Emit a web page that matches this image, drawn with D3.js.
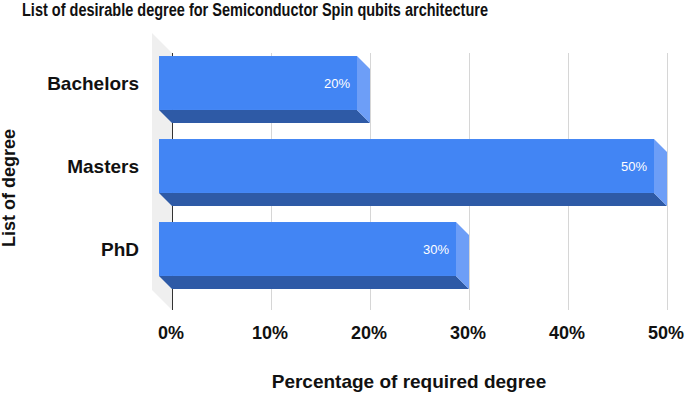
<!DOCTYPE html>
<html>
<head>
<meta charset="utf-8">
<script src="https://cdn.jsdelivr.net/npm/d3@7"></script>
<style>
  body { margin: 0; background: #fff; }
  text { font-family: "Liberation Sans", Arial, sans-serif; }
</style>
</head>
<body>
<svg id="chart"></svg>
<script>
// data
const degrees = ["Bachelors", "Masters", "PhD"];
const shares = [0.20, 0.50, 0.30];
const xTicks = [0, 0.1, 0.2, 0.3, 0.4, 0.5];

const width = 685, height = 394;
const depth = 13, wallDepth = 20;
const plotTop = 53, plotBottom = 310;

const svg = d3.select("#chart")
  .attr("width", width)
  .attr("height", height);

const x = d3.scaleLinear().domain([0, 0.5]).range([172, 667]);

// front faces sit up-left of the back plane by `depth`
const y = d3.scaleBand()
  .domain(degrees)
  .range([41.5, 290.5])
  .paddingInner(0.35)
  .paddingOuter(0.175);

// grey side wall
svg.append("polygon")
  .attr("points", [
    [x(0) - wallDepth, plotTop - wallDepth],
    [x(0), plotTop],
    [x(0), plotBottom],
    [x(0) - wallDepth, plotBottom - wallDepth]
  ].join(" "))
  .attr("fill", "#efefef");

// gridlines
svg.append("g")
  .selectAll("line")
  .data(xTicks)
  .join("line")
  .attr("x1", d => x(d)).attr("x2", d => x(d))
  .attr("y1", plotTop).attr("y2", plotBottom)
  .attr("stroke", d => d === 0 ? "#333" : "#d6d6d6")
  .attr("stroke-width", 1)
  .attr("shape-rendering", "crispEdges");

// tick labels
svg.append("g")
  .selectAll("text")
  .data(xTicks)
  .join("text")
  .attr("x", d => x(d) - 1)
  .attr("y", 339)
  .attr("text-anchor", "middle")
  .attr("font-size", 18)
  .attr("font-weight", "bold")
  .attr("fill", "#111")
  .text(d3.format(".0%"));

const bars = svg.append("g")
  .selectAll("g")
  .data(degrees.map((d, i) => ({ name: d, value: shares[i] })))
  .join("g");

// bottom face
bars.append("polygon")
  .attr("points", d => {
    const y0 = y(d.name) + y.bandwidth();
    return [
      [x(0) - depth, y0],
      [x(d.value) - depth, y0],
      [x(d.value), y0 + depth],
      [x(0), y0 + depth]
    ].join(" ");
  })
  .attr("fill", "#2e5aa6");

// right side face
bars.append("polygon")
  .attr("points", d => {
    const y0 = y(d.name), y1 = y0 + y.bandwidth();
    return [
      [x(d.value) - depth, y0],
      [x(d.value), y0 + depth],
      [x(d.value), y1 + depth],
      [x(d.value) - depth, y1]
    ].join(" ");
  })
  .attr("fill", "#6d9ef7");

// front face
bars.append("rect")
  .attr("x", x(0) - depth)
  .attr("y", d => y(d.name))
  .attr("width", d => x(d.value) - x(0))
  .attr("height", y.bandwidth())
  .attr("fill", "#4285f4");

bars.append("text")
  .attr("x", d => x(d.value) - depth - 7)
  .attr("y", d => y(d.name) + y.bandwidth() / 2)
  .attr("dy", "0.35em")
  .attr("text-anchor", "end")
  .attr("font-family", "Roboto, Arial, sans-serif")
  .attr("font-size", 13)
  .attr("fill", "#fff")
  .text(d => d3.format(".0%")(d.value));

// category labels
svg.append("g")
  .selectAll("text")
  .data(degrees)
  .join("text")
  .attr("x", 139)
  .attr("y", d => y(d) + y.bandwidth() / 2)
  .attr("dy", "0.35em")
  .attr("text-anchor", "end")
  .attr("font-size", 19)
  .attr("font-weight", "bold")
  .attr("fill", "#111")
  .text(d => d);

// titles
svg.append("text")
  .attr("x", 22)
  .attr("y", 16)
  .attr("font-size", 18)
  .attr("font-weight", "bold")
  .attr("fill", "#111")
  .attr("textLength", 466)
  .attr("lengthAdjust", "spacingAndGlyphs")
  .text("List of desirable degree for Semiconductor Spin qubits architecture");

svg.append("text")
  .attr("x", 409)
  .attr("y", 388)
  .attr("text-anchor", "middle")
  .attr("font-size", 19)
  .attr("font-weight", "bold")
  .attr("fill", "#111")
  .text("Percentage of required degree");

svg.append("text")
  .attr("transform", "translate(15,188) rotate(-90)")
  .attr("text-anchor", "middle")
  .attr("font-size", 18)
  .attr("font-weight", "bold")
  .attr("fill", "#111")
  .text("List of degree");
</script>
</body>
</html>
